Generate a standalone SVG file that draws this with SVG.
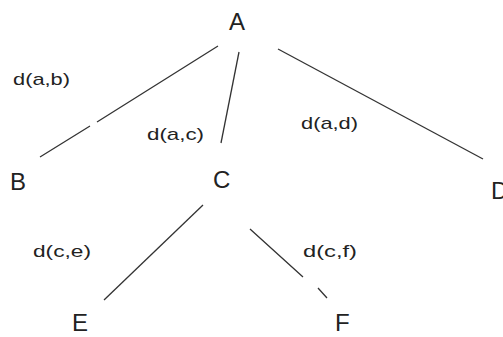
<svg xmlns="http://www.w3.org/2000/svg" width="503" height="337" viewBox="0 0 503 337">
<style>
.n{font-family:"Liberation Sans",Arial,sans-serif;font-size:24px;fill:#222}
.l{font-family:"Liberation Sans",Arial,sans-serif;font-size:17px;fill:#222}
.e{stroke:#333;stroke-width:1.3;fill:none}
</style>
<rect width="503" height="337" fill="#fff"/>
<g id="connectors">
<path class="e" d="M218,46 L97,122 M90,126 L40,157"/>
<path class="e" d="M239,52 L221,143"/>
<path class="e" d="M278,49 L483,159"/>
<path class="e" d="M203,205 L104,300"/>
<path class="e" d="M250,229 L303,277 M318,288 L327,298"/>
</g>
<g id="node-A"><text class="n" x="229" y="30">A</text></g>
<g id="node-B"><text class="n" x="10" y="190">B</text></g>
<g id="node-C"><text class="n" x="213" y="188">C</text></g>
<g id="node-D"><text class="n" x="491" y="199">D</text></g>
<g id="node-E"><text class="n" x="72" y="331">E</text></g>
<g id="node-F"><text class="n" x="335" y="331">F</text></g>
<g id="labels">
<text class="l" x="13" y="85" textLength="57" lengthAdjust="spacingAndGlyphs">d(a,b)</text>
<text class="l" x="147" y="140" textLength="57" lengthAdjust="spacingAndGlyphs">d(a,c)</text>
<text class="l" x="301" y="129" textLength="57" lengthAdjust="spacingAndGlyphs">d(a,d)</text>
<text class="l" x="33" y="257" textLength="58" lengthAdjust="spacingAndGlyphs">d(c,e)</text>
<text class="l" x="303" y="257" textLength="54" lengthAdjust="spacingAndGlyphs">d(c,f)</text>
</g>
</svg>
